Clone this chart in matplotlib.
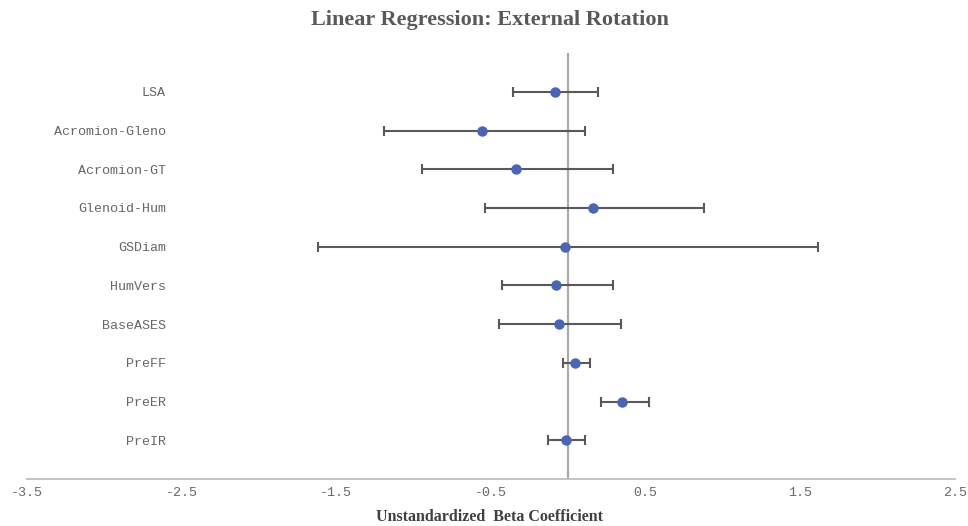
import matplotlib
matplotlib.use("Agg")
import matplotlib.pyplot as plt
import numpy as np

categories = ["LSA", "Acromion-Gleno", "Acromion-GT", "Glenoid-Hum", "GSDiam",
              "HumVers", "BaseASES", "PreFF", "PreER", "PreIR"]
beta = [-0.088, -0.558, -0.338, 0.160, -0.019, -0.080, -0.058, 0.041, 0.349, -0.017]
ci_low = [-0.360, -1.194, -0.944, -0.537, -1.620, -0.427, -0.448, -0.036, 0.211, -0.129]
ci_high = [0.190, 0.110, 0.291, 0.875, 1.614, 0.291, 0.341, 0.140, 0.520, 0.110]
xticks = [-3.5, -2.5, -1.5, -0.5, 0.5, 1.5, 2.5]

fig = plt.figure(figsize=(9.68, 5.26), dpi=100)
ax = fig.add_axes([0.0279, 0.0894, 0.9587, 0.8096])

n = len(categories)
ypos = np.arange(n, 0, -1)
b = np.array(beta)
err = [b - np.array(ci_low), np.array(ci_high) - b]

ax.axvline(0, color="#ABABAB", lw=1.6, zorder=1)
ax.errorbar(b, ypos, xerr=err, fmt="none", ecolor="#595959", elinewidth=1.5,
            capsize=3.5, capthick=1.5, zorder=2)
ax.plot(b, ypos, "o", color="#4A66B3", markersize=6.5, zorder=3)

ax.set_xlim(-3.5, 2.5)
ax.set_ylim(0, 11)
ax.set_xticks(xticks)
ax.set_xticklabels([f"{t:.1f}" for t in xticks], family="Liberation Mono",
                   fontsize=9.6, color="#666666")
ax.set_yticks(ypos)
ax.set_yticklabels(categories, family="Liberation Mono", fontsize=9.6, color="#666666")
ax.tick_params(axis="y", length=0, pad=-100)
ax.tick_params(axis="x", length=0, pad=6)

for s in ["top", "right", "left"]:
    ax.spines[s].set_visible(False)
ax.spines["bottom"].set_color("#BFBFBF")
ax.spines["bottom"].set_linewidth(1.3)

fig.text(0.506, 0.962, "Linear Regression: External Rotation", ha="center", va="center",
         family="Liberation Serif", fontweight="bold", fontsize=16, color="#595959")
fig.text(0.506, 0.017, "Unstandardized  Beta Coefficient", ha="center", va="center",
         family="Liberation Serif", fontweight="bold", fontsize=11.5, color="#404040")

fig.savefig("out.png", dpi=100)
